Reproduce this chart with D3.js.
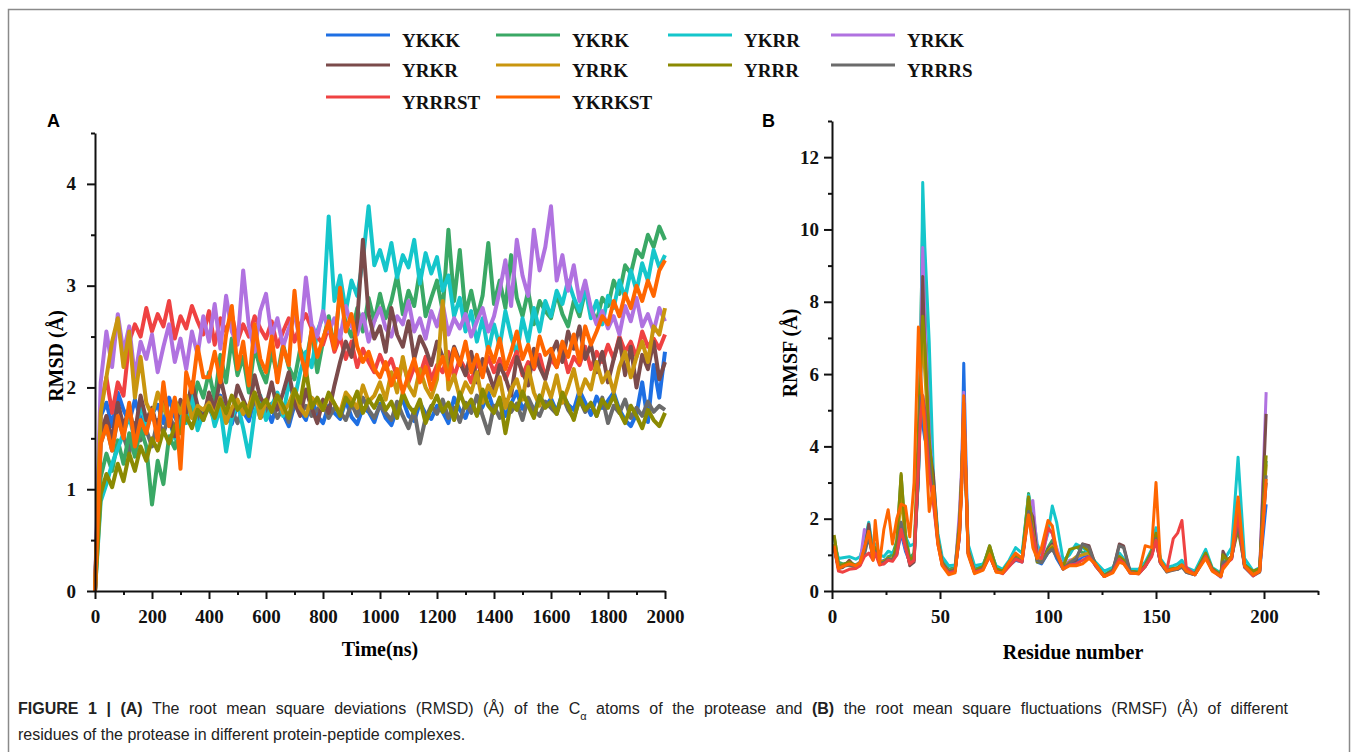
<!DOCTYPE html>
<html>
<head>
<meta charset="utf-8">
<script src="https://cdn.jsdelivr.net/npm/d3@7"></script>
<style>
  body { margin: 0; background: #fff; }
  .tick text { font-family: "Liberation Serif", "Times New Roman", serif; font-weight: bold; font-size: 19px; fill: #111; }
  .axis path, .axis line { stroke: #111; stroke-width: 2; }
</style>
</head>
<body>
<svg id="chart" width="1357" height="752"></svg>
<script>
// series names and colours (legend order)
const seriesNames = ["YKKK", "YKRK", "YKRR", "YRKK", "YRKR", "YRRK", "YRRR", "YRRRS", "YRRRST", "YKRKST"];
const seriesColors = ["#1e6fe3", "#3aa865", "#15c6cb", "#b072e0", "#7b4b4b", "#c9960e", "#8b8a02", "#6b6b6b", "#ef4242", "#ff6600"];
// order the lines are stacked in (last one on top)
const drawOrder = [0, 7, 1, 2, 8, 3, 4, 5, 6, 9];

// panel A: RMSD vs time, sampled every 20 ns
const rmsdTime = d3.range(0, 2001, 20);
const rmsdYKKK = [0, 1.72, 1.85, 1.62, 1.95, 1.78, 1.66, 1.88, 1.70, 1.59,
  1.74, 1.83, 1.65, 1.90, 1.71, 1.60, 1.79, 1.86, 1.68, 1.75,
  1.81, 1.69, 1.92, 1.72, 1.64, 1.84, 1.76, 1.67, 1.89, 1.73,
  1.80, 1.66, 1.85, 1.74, 1.62, 1.83, 1.77, 1.68, 1.90, 1.72,
  1.65, 1.82, 1.75, 1.69, 1.87, 1.71, 1.64, 1.80, 1.76, 1.66,
  1.84, 1.70, 1.63, 1.79, 1.88, 1.72, 1.67, 1.85, 1.74, 1.69,
  1.82, 1.76, 1.65, 1.90, 1.78, 1.70, 1.86, 1.73, 1.81, 1.95,
  1.77, 1.88, 1.72, 1.84, 1.96, 1.79, 1.86, 1.74, 1.92, 1.81,
  1.89, 1.76, 1.94, 1.83, 1.78, 1.97, 1.85, 1.73, 1.91, 1.80,
  1.87, 1.95, 1.78, 1.68, 1.62, 1.74, 2.05, 1.66, 2.22, 1.90, 2.35];
const rmsdYKRK = [0, 1.12, 1.35, 1.18, 1.48, 1.25, 1.55, 1.32, 1.60, 1.42,
  0.85, 1.28, 1.05, 1.52, 1.40, 1.68, 1.85, 1.72, 2.05, 1.90,
  2.15, 1.88, 2.32, 2.05, 2.48, 2.12, 2.30, 1.95, 2.40, 2.18,
  2.05, 2.35, 2.12, 2.42, 2.20, 2.08, 2.38, 2.25, 2.55, 2.15,
  2.45, 2.70, 2.38, 2.95, 2.62, 2.50, 2.78, 2.55, 2.88, 2.65,
  2.92, 2.68, 2.85, 3.10, 2.72, 2.95, 2.80, 3.15, 2.70, 2.88,
  3.05, 2.75, 3.55, 2.85, 3.35, 2.72, 2.95, 2.68, 2.90, 3.42,
  2.82, 3.05, 2.78, 3.30, 2.88, 2.70, 2.95, 2.62, 2.85, 2.75,
  2.68, 2.92, 2.72, 2.60, 2.85, 2.70, 2.95, 2.78, 2.65, 2.88,
  2.80, 3.05, 2.92, 3.20, 3.12, 3.35, 3.28, 3.50, 3.38, 3.58, 3.45];
const rmsdYKRR = [0, 0.88, 1.05, 1.25, 1.40, 1.55, 1.72, 1.48, 1.85, 1.62,
  1.78, 1.55, 1.92, 1.68, 1.50, 1.82, 1.65, 1.95, 1.58, 1.75,
  1.88, 1.62, 1.80, 1.37, 1.70, 1.85, 1.60, 1.32, 1.75, 1.92,
  1.68, 1.82, 1.95, 1.72, 2.05, 1.88, 2.15, 2.35, 2.20, 2.55,
  2.70, 3.68, 2.85, 3.10, 2.75, 3.05, 2.90, 3.25, 3.78, 3.20,
  3.35, 3.15, 3.42, 3.08, 3.30, 3.18, 3.45, 3.02, 3.32, 3.12,
  3.28, 2.95, 3.10, 2.70, 2.88, 2.55, 2.75, 2.45, 2.68, 2.35,
  2.62, 2.40, 2.75, 2.50, 2.32, 2.68, 2.45, 2.78, 2.55, 2.85,
  2.70, 2.95, 2.82, 3.05, 2.88, 2.75, 2.98, 2.68, 2.85, 2.62,
  2.90, 2.78, 3.05, 2.88, 3.15, 2.95, 3.22, 3.05, 3.35, 3.18, 3.30];
const rmsdYRKK = [0, 2.05, 2.55, 2.20, 2.72, 2.35, 2.60, 2.10, 2.45, 2.28,
  2.52, 2.15, 2.40, 2.62, 2.25, 2.48, 2.18, 2.55, 2.32, 2.70,
  2.45, 2.82, 2.38, 2.90, 2.55, 2.42, 3.15, 2.60, 2.35, 2.75,
  2.92, 2.50, 2.68, 2.40, 2.58, 2.72, 2.45, 3.08, 2.62, 2.50,
  2.75, 2.55, 2.68, 2.48, 2.80, 2.60, 2.52, 2.72, 2.45, 2.65,
  2.78, 2.58, 2.50, 2.70, 2.62, 2.85, 2.55, 2.68, 2.48, 2.75,
  2.60, 2.82, 2.52, 2.68, 2.58, 2.72, 2.50, 2.65, 2.78, 2.55,
  2.70, 2.95, 3.25, 2.80, 3.45, 3.10, 2.90, 3.55, 3.15, 3.38,
  3.78, 3.05, 3.30, 2.95, 3.20, 2.85, 3.05, 2.78, 2.62, 2.75,
  2.58, 2.70, 2.52, 2.80, 2.65, 2.88, 2.60, 2.72, 2.55, 2.78, 2.65];
const rmsdYRKR = [0, 1.55, 1.72, 1.48, 1.85, 1.62, 1.78, 1.55, 1.92, 1.68,
  1.80, 1.58, 1.95, 1.70, 1.52, 1.88, 1.75, 2.05, 1.82, 1.68,
  1.95, 1.78, 2.10, 1.85, 1.72, 2.02, 1.88, 1.75, 2.12, 1.90,
  1.82, 2.05, 1.78, 1.95, 2.15, 1.85, 1.72, 1.98, 1.80, 1.65,
  1.88, 1.75, 2.02, 2.25, 2.45, 2.30, 2.65, 3.45, 2.72, 2.48,
  2.60, 2.35, 2.78, 2.52, 2.40, 2.65, 2.28, 2.50, 2.38, 2.22,
  2.45, 2.30, 2.18, 2.40, 2.25, 2.12, 2.35, 2.05, 2.28, 2.15,
  1.98, 2.22, 2.10, 1.92, 2.30, 2.15, 2.02, 2.38, 2.20, 2.08,
  2.32, 2.45, 2.25, 2.55, 2.38, 2.60, 2.28, 2.42, 2.15, 2.35,
  2.05, 2.28, 2.48, 2.12, 2.40, 2.00, 2.32, 2.18, 2.45, 2.08, 2.25];
const rmsdYRRK = [0, 1.75, 2.10, 2.45, 2.68, 2.20, 2.55, 1.90, 2.30, 1.85,
  1.72, 1.95, 1.80, 1.68, 1.88, 1.75, 1.92, 1.70, 1.82, 1.78,
  1.85, 1.72, 1.90, 1.65, 1.80, 1.88, 1.74, 1.82, 1.95, 1.70,
  1.86, 1.78, 1.92, 1.75, 1.84, 1.98, 1.80, 1.72, 1.90, 1.85,
  1.78, 1.92, 1.84, 1.75, 1.95, 1.88, 1.80, 2.02, 1.86, 1.92,
  2.05, 1.88, 2.15, 1.95, 2.30, 2.02, 1.92, 2.18, 2.00, 1.90,
  2.08, 2.85, 1.98, 2.12, 1.90, 2.05, 1.95, 2.15, 1.85, 2.02,
  1.92, 2.10, 1.80, 1.98, 2.08, 1.88, 2.20, 1.95, 1.82, 2.05,
  1.90, 2.12, 1.85, 2.00, 2.18, 1.92, 2.08, 1.98, 2.25, 2.05,
  2.15, 1.95, 2.20, 2.35, 2.10, 2.30, 2.45, 2.25, 2.60, 2.52, 2.78];
const rmsdYRRR = [0, 0.95, 1.15, 1.02, 1.25, 1.08, 1.35, 1.18, 1.42, 1.28,
  1.50, 1.38, 1.58, 1.45, 1.62, 1.55, 1.72, 1.60, 1.78, 1.68,
  1.82, 1.70, 1.88, 1.75, 1.92, 1.78, 1.85, 1.72, 1.95, 1.80,
  1.88, 1.76, 1.92, 1.82, 1.70, 1.98, 1.85, 2.18, 1.80, 1.90,
  1.78, 1.95, 1.84, 1.72, 1.90, 1.82, 1.96, 1.75, 1.88, 1.80,
  1.92, 1.78, 1.86, 1.70, 1.95, 1.82, 1.75, 1.88, 1.65, 1.80,
  1.92, 1.76, 1.85, 1.68, 1.95, 1.80, 1.88, 1.72, 1.98, 1.82,
  1.75, 1.90, 1.55, 1.85, 1.78, 1.96, 1.82, 1.70, 1.92, 1.80,
  1.86, 1.74, 1.95, 1.82, 1.68, 1.90, 1.78, 1.85, 1.72, 1.88,
  1.80, 1.92, 1.76, 1.65, 1.82, 1.72, 1.60, 1.78, 1.68, 1.62, 1.75];
const rmsdYRRRS = [0, 1.45, 1.62, 1.38, 1.70, 1.52, 1.35, 1.65, 1.48, 1.58,
  1.42, 1.68, 1.55, 1.72, 1.60, 1.78, 1.66, 1.82, 1.70, 1.75,
  1.80, 1.68, 1.85, 1.72, 1.78, 1.65, 1.82, 1.74, 1.88, 1.70,
  1.76, 1.84, 1.70, 1.80, 1.66, 1.86, 1.74, 1.82, 1.72, 1.78,
  1.85, 1.70, 1.80, 1.76, 1.68, 1.84, 1.72, 1.90, 1.78, 1.70,
  1.82, 1.75, 1.68, 1.86, 1.72, 1.60, 1.78, 1.45, 1.70, 1.82,
  1.74, 1.88, 1.70, 1.80, 1.66, 1.85, 1.75, 1.92, 1.72, 1.55,
  1.82, 1.70, 1.88, 1.76, 1.84, 1.68, 1.90, 1.78, 1.72, 1.86,
  1.80, 1.74, 1.92, 1.78, 1.70, 1.88, 1.76, 1.84, 1.72, 1.90,
  1.65, 1.82, 1.75, 1.88, 1.70, 1.80, 1.72, 1.86, 1.76, 1.82, 1.78];
const rmsdYRRRST = [0, 1.80, 2.10, 1.75, 2.05, 1.92, 2.45, 2.62, 2.50, 2.78,
  2.55, 2.72, 2.60, 2.85, 2.48, 2.70, 2.58, 2.80, 2.65, 2.52,
  2.75, 2.42, 2.68, 2.55, 2.72, 2.45, 2.62, 2.50, 2.70, 2.58,
  2.48, 2.65, 2.40, 2.55, 2.68, 2.45, 2.62, 2.72, 2.58, 2.50,
  2.42, 2.60, 2.35, 2.50, 2.28, 2.45, 2.20, 2.38, 2.25, 2.15,
  2.32, 2.18, 2.28, 2.10, 2.25, 2.05, 2.20, 2.12, 2.30, 2.08,
  2.22, 2.15, 2.35, 2.10, 2.28, 2.18, 2.05, 2.25, 2.12, 2.30,
  2.15, 2.28, 2.08, 2.22, 2.35, 2.12, 2.25, 2.18, 2.32, 2.10,
  2.28, 2.20, 2.38, 2.15, 2.30, 2.22, 2.40, 2.18, 2.35, 2.25,
  2.42, 2.28, 2.50, 2.35, 2.45, 2.30, 2.55, 2.40, 2.48, 2.38, 2.52];
const rmsdYKRKST = [0, 1.45, 1.62, 1.38, 1.72, 1.50, 1.85, 1.42, 1.68, 1.55,
  1.78, 1.48, 2.05, 1.62, 1.90, 1.20, 2.15, 1.95, 2.40, 2.10,
  2.10, 2.35, 2.05, 2.52, 2.80, 2.18, 2.45, 2.02, 2.62, 2.28,
  2.15, 2.50, 2.05, 2.40, 2.22, 2.95, 2.35, 2.12, 2.58, 2.30,
  2.48, 2.65, 2.38, 2.98, 2.55, 2.72, 2.40, 2.25, 2.35, 2.18,
  2.10, 2.25, 2.02, 2.18, 1.95, 2.12, 2.28, 2.05, 2.20, 1.98,
  2.15, 2.30, 2.08, 2.38, 2.22, 2.45, 2.15, 2.32, 2.10, 2.40,
  2.25, 2.48, 2.18, 2.35, 2.55, 2.28, 2.42, 2.20, 2.50, 2.32,
  2.38, 2.20, 2.45, 2.30, 2.52, 2.25, 2.60, 2.42, 2.55, 2.70,
  2.62, 2.85, 2.70, 2.92, 2.78, 3.00, 2.85, 3.05, 2.90, 3.15, 3.25];

// panel B: RMSF per residue
const rmsfResidue = [1, 3, 5, 8, 11, 13, 15, 17, 19, 20, 22, 24, 26, 28, 30, 32, 34, 36, 38, 40,
  41, 42, 43, 45, 47, 49, 51, 54, 57, 59, 60, 61, 63, 66, 70, 73, 76, 79, 82, 85,
  88, 91, 93, 95, 97, 100, 102, 104, 107, 110, 113, 116, 119, 122, 126, 130, 133, 135, 138, 142,
  145, 148, 150, 152, 155, 158, 160, 162, 164, 168, 173, 176, 180, 181, 183, 185, 188, 191, 195, 198, 201];
const rmsfYKKK = [1.20, 0.65, 0.70, 0.72, 0.68, 0.75, 1.10, 1.55, 0.95, 1.20,
  0.80, 0.85, 0.90, 0.88, 1.00, 1.60, 1.10, 0.80, 0.95, 3.20,
  5.20, 4.60, 4.20, 3.80, 2.60, 1.40, 0.80, 0.55, 0.60, 1.50,
  3.00, 6.30, 1.10, 0.55, 0.65, 1.00, 0.55, 0.50, 0.70, 0.85,
  0.80, 2.40, 1.50, 0.80, 0.75, 1.05, 1.20, 0.90, 0.60, 0.75,
  0.80, 0.95, 1.00, 0.70, 0.42, 0.55, 0.90, 0.80, 0.50, 0.50,
  0.70, 1.00, 1.45, 0.80, 0.55, 0.60, 0.62, 0.70, 0.55, 0.48,
  0.95, 0.60, 0.42, 0.70, 0.80, 0.90, 2.00, 0.70, 0.45, 0.55, 2.40];
const rmsfYKRK = [1.50, 0.80, 0.75, 0.78, 0.72, 0.80, 1.20, 1.70, 1.00, 1.25,
  0.85, 0.80, 0.95, 1.00, 1.40, 3.20, 1.60, 0.90, 1.05, 3.50,
  7.00, 10.30, 8.00, 4.80, 2.90, 1.50, 0.85, 0.60, 0.65, 1.90,
  3.20, 5.00, 1.20, 0.60, 0.70, 1.25, 0.65, 0.55, 0.75, 1.00,
  0.90, 2.70, 1.80, 0.90, 0.85, 1.20, 1.40, 1.10, 0.70, 1.10,
  1.25, 1.05, 1.10, 0.75, 0.45, 0.60, 1.00, 0.85, 0.55, 0.55,
  0.75, 1.10, 1.70, 0.85, 0.60, 0.62, 0.65, 0.75, 0.58, 0.50,
  1.05, 0.62, 0.45, 0.80, 0.85, 0.95, 2.20, 0.75, 0.50, 0.60, 3.60];
const rmsfYKRR = [1.30, 0.90, 0.92, 0.95, 0.88, 0.95, 1.35, 1.90, 1.15, 1.30,
  1.00, 0.95, 1.10, 1.05, 1.20, 1.90, 1.50, 1.25, 1.30, 3.00,
  6.00, 11.30, 9.50, 6.90, 3.10, 1.60, 0.95, 0.70, 0.72, 1.70,
  3.00, 5.10, 1.30, 0.70, 0.75, 1.15, 0.70, 0.60, 0.85, 1.20,
  1.05, 2.65, 2.20, 1.30, 1.00, 1.60, 2.35, 1.90, 0.85, 1.00,
  1.30, 1.20, 1.05, 0.80, 0.55, 0.65, 1.05, 0.90, 0.60, 0.60,
  0.80, 1.15, 1.75, 0.90, 0.65, 0.70, 0.75, 0.85, 0.65, 0.55,
  1.15, 0.65, 0.50, 0.85, 1.00, 1.20, 3.70, 0.90, 0.55, 0.65, 3.00];
const rmsfYRKK = [1.25, 0.70, 0.68, 0.75, 0.70, 0.80, 1.70, 1.50, 0.95, 1.15,
  0.80, 0.78, 0.90, 0.85, 1.05, 1.75, 1.20, 0.75, 0.85, 3.50,
  6.50, 9.50, 7.50, 4.50, 2.80, 1.45, 0.80, 0.55, 0.60, 2.20,
  3.40, 5.50, 1.15, 0.55, 0.65, 1.05, 0.58, 0.52, 0.72, 0.90,
  0.85, 2.30, 2.50, 1.10, 0.80, 1.70, 1.60, 1.20, 0.65, 0.85,
  0.90, 1.00, 1.05, 0.72, 0.40, 0.55, 0.95, 0.82, 0.50, 0.50,
  0.70, 1.05, 1.50, 0.80, 0.55, 0.60, 0.62, 0.72, 0.55, 0.45,
  0.95, 0.58, 0.38, 0.65, 0.80, 0.90, 2.10, 0.68, 0.42, 0.55, 5.50];
const rmsfYRKR = [1.20, 0.62, 0.65, 0.85, 0.65, 0.72, 1.05, 1.85, 0.90, 1.10,
  0.78, 0.75, 0.88, 0.85, 1.10, 1.85, 1.30, 0.70, 0.80, 3.20,
  5.40, 8.70, 6.50, 4.00, 3.20, 1.40, 0.75, 0.50, 0.55, 1.60,
  3.00, 5.20, 1.05, 0.50, 0.62, 1.00, 0.55, 0.50, 0.70, 0.95,
  0.85, 2.30, 2.05, 1.00, 0.80, 1.15, 1.30, 1.00, 0.62, 0.80,
  0.85, 1.30, 1.25, 0.72, 0.42, 0.55, 1.30, 1.25, 0.55, 0.50,
  0.68, 1.00, 1.40, 0.78, 0.55, 0.58, 0.60, 0.68, 0.52, 0.45,
  1.00, 0.60, 0.42, 1.10, 0.85, 0.95, 2.10, 0.70, 0.45, 0.55, 4.90];
const rmsfYRRK = [1.30, 0.68, 0.72, 0.70, 0.68, 0.75, 1.10, 1.60, 0.95, 1.15,
  0.80, 0.82, 0.90, 0.88, 1.15, 2.60, 1.40, 0.80, 0.90, 3.80,
  6.00, 7.00, 6.00, 4.00, 2.70, 1.40, 0.78, 0.52, 0.58, 1.60,
  3.00, 5.00, 1.10, 0.55, 0.65, 1.10, 0.58, 0.52, 0.72, 0.95,
  0.85, 2.60, 1.70, 0.90, 0.80, 1.10, 1.25, 1.00, 0.65, 0.80,
  0.95, 1.00, 1.05, 0.72, 0.42, 0.55, 0.95, 0.85, 0.52, 0.50,
  0.70, 1.05, 1.55, 0.80, 0.55, 0.60, 0.62, 0.70, 0.55, 0.46,
  1.00, 0.60, 0.42, 0.75, 0.82, 0.92, 2.00, 0.70, 0.45, 0.58, 3.50];
const rmsfYRRR = [1.55, 0.70, 0.72, 0.80, 0.70, 0.78, 1.15, 1.65, 0.95, 1.20,
  0.80, 0.80, 0.90, 0.85, 1.30, 3.25, 1.50, 0.85, 0.95, 4.50,
  6.20, 7.60, 6.80, 4.20, 2.80, 1.45, 0.80, 0.55, 0.60, 1.90,
  3.20, 4.90, 1.15, 0.55, 0.68, 1.25, 0.62, 0.55, 0.80, 1.00,
  0.90, 2.60, 1.60, 0.80, 0.80, 1.10, 1.20, 1.00, 0.68, 1.15,
  1.20, 1.25, 1.10, 0.75, 0.42, 0.58, 0.95, 0.85, 0.55, 0.52,
  0.72, 1.10, 1.60, 0.85, 0.58, 0.62, 0.64, 0.72, 0.56, 0.48,
  1.05, 0.62, 0.45, 1.00, 0.85, 0.95, 1.70, 0.72, 0.55, 0.62, 3.75];
const rmsfYRRRS = [1.20, 0.65, 0.68, 0.72, 0.66, 0.75, 1.00, 1.50, 0.90, 1.10,
  0.78, 0.78, 0.88, 0.85, 1.05, 1.90, 1.25, 0.75, 0.85, 3.20,
  5.40, 5.40, 5.00, 3.60, 2.50, 1.35, 0.75, 0.52, 0.58, 1.50,
  2.90, 4.80, 1.05, 0.52, 0.62, 0.98, 0.55, 0.50, 0.70, 0.90,
  0.82, 2.20, 1.60, 0.85, 0.78, 1.05, 1.15, 0.95, 0.62, 0.78,
  0.90, 1.30, 1.20, 0.70, 0.40, 0.55, 1.25, 1.20, 0.52, 0.48,
  0.68, 1.00, 1.45, 0.78, 0.52, 0.58, 0.60, 0.66, 0.52, 0.45,
  0.95, 0.58, 0.40, 0.80, 0.80, 0.90, 1.90, 0.65, 0.42, 0.52, 3.20];
const rmsfYRRRST = [1.20, 0.55, 0.52, 0.60, 0.62, 0.70, 0.95, 1.05, 0.85, 1.05,
  0.72, 0.75, 0.85, 0.82, 1.00, 1.70, 1.20, 0.75, 0.85, 3.50,
  4.80, 5.40, 4.80, 3.20, 2.40, 1.30, 0.72, 0.50, 0.55, 1.50,
  2.80, 5.20, 1.05, 0.52, 0.60, 0.95, 0.55, 0.48, 0.68, 0.88,
  0.80, 2.10, 1.55, 0.95, 0.90, 1.75, 1.60, 1.05, 0.62, 0.72,
  0.75, 0.85, 0.95, 0.70, 0.40, 0.52, 0.88, 0.78, 0.50, 0.48,
  0.68, 0.95, 1.40, 0.78, 0.58, 1.45, 1.60, 1.95, 0.65, 0.45,
  0.95, 0.58, 0.40, 0.68, 0.78, 0.88, 2.10, 0.68, 0.42, 0.55, 3.00];
const rmsfYKRKST = [1.25, 0.62, 0.68, 0.75, 0.70, 0.78, 1.20, 1.65, 0.85, 1.95,
  0.75, 1.70, 2.25, 1.30, 2.00, 2.40, 2.35, 1.50, 3.00, 7.30,
  6.00, 5.20, 4.40, 2.20, 2.90, 1.30, 0.70, 0.45, 0.50, 1.60,
  2.80, 5.40, 1.00, 0.48, 0.58, 1.00, 0.52, 0.50, 0.80, 1.05,
  0.90, 2.10, 1.20, 0.90, 1.20, 1.95, 1.80, 1.10, 0.60, 0.70,
  0.70, 0.75, 0.90, 0.75, 0.40, 0.50, 0.80, 0.75, 0.50, 0.48,
  1.25, 1.20, 3.00, 0.85, 0.55, 0.60, 0.62, 0.72, 0.55, 0.45,
  0.90, 0.55, 0.40, 0.60, 0.75, 0.95, 2.60, 0.70, 0.45, 0.55, 3.10];

const rmsdSeries = [rmsdYKKK, rmsdYKRK, rmsdYKRR, rmsdYRKK, rmsdYRKR, rmsdYRRK, rmsdYRRR, rmsdYRRRS, rmsdYRRRST, rmsdYKRKST];
const rmsfSeries = [rmsfYKKK, rmsfYKRK, rmsfYKRR, rmsfYRKK, rmsfYRKR, rmsfYRRK, rmsfYRRR, rmsfYRRRS, rmsfYRRRST, rmsfYKRKST];

const svg = d3.select("#chart");
const serif = '"Liberation Serif", "Times New Roman", serif';
const sans = '"Liberation Sans", Arial, sans-serif';

// outer frame
svg.append("rect")
  .attr("x", 8.5).attr("y", 9.5)
  .attr("width", 1341).attr("height", 800)
  .attr("fill", "none").attr("stroke", "#8a8a8a").attr("stroke-width", 1.5);

// legend
const legCols = [326, 496, 668, 831];
const legRows = [35, 65, 97];
seriesNames.forEach((name, i) => {
  const lx = legCols[i % 4], ly = legRows[Math.floor(i / 4)];
  svg.append("line")
    .attr("x1", lx).attr("x2", lx + 64)
    .attr("y1", ly).attr("y2", ly)
    .attr("stroke", seriesColors[i]).attr("stroke-width", 3);
  svg.append("text")
    .attr("x", lx + 76).attr("y", ly + 12)
    .style("font-family", serif).style("font-weight", "bold").style("font-size", "19px")
    .attr("fill", "#111")
    .text(name);
});

function drawAxes(g, x, y, xMajor, xMinor, yMajor, yMinor, yPad) {
  g.append("g").attr("class", "axis")
    .attr("transform", `translate(0,${y.range()[0]})`)
    .call(d3.axisBottom(x).tickValues(xMinor).tickSize(4).tickFormat("").tickSizeOuter(0))
    .call(a => a.select(".domain").remove());
  g.append("g").attr("class", "axis")
    .attr("transform", `translate(0,${y.range()[0]})`)
    .call(d3.axisBottom(x).tickValues(xMajor).tickSize(8).tickPadding(11).tickSizeOuter(0).tickFormat(d => d));
  g.append("g").attr("class", "axis")
    .attr("transform", `translate(${x.range()[0]},0)`)
    .call(d3.axisLeft(y).tickValues(yMinor).tickSize(4).tickFormat("").tickSizeOuter(0))
    .call(a => a.select(".domain").remove());
  g.append("g").attr("class", "axis")
    .attr("transform", `translate(${x.range()[0]},0)`)
    .call(d3.axisLeft(y).tickValues(yMajor).tickSize(8).tickPadding(yPad).tickSizeOuter(0).tickFormat(d => d));
}

// ---------- panel A ----------
const xA = d3.scaleLinear().domain([0, 2000]).range([95, 665]);
const yA = d3.scaleLinear().domain([0, 4.5]).range([591, 133]);
const gA = svg.append("g");

const lineA = d3.line().x((d, i) => xA(rmsdTime[i])).y(d => yA(d));
drawOrder.forEach(i => {
  gA.append("path").datum(rmsdSeries[i])
    .attr("d", lineA)
    .attr("fill", "none")
    .attr("stroke", seriesColors[i])
    .attr("stroke-width", 4)
    .attr("stroke-linejoin", "round");
});

drawAxes(gA, xA, yA,
  d3.range(0, 2001, 200), d3.range(100, 2001, 200),
  [0, 1, 2, 3, 4], [0.5, 1.5, 2.5, 3.5, 4.5], 11);

gA.append("text")
  .attr("x", 380).attr("y", 656)
  .attr("text-anchor", "middle")
  .style("font-family", serif).style("font-weight", "bold").style("font-size", "20px")
  .text("Time(ns)");
gA.append("text")
  .attr("transform", "translate(63,356) rotate(-90)")
  .attr("text-anchor", "middle")
  .style("font-family", serif).style("font-weight", "bold").style("font-size", "20px")
  .text("RMSD (Å)");
gA.append("text")
  .attr("x", 47).attr("y", 127)
  .style("font-family", sans).style("font-weight", "bold").style("font-size", "18px")
  .text("A");

// ---------- panel B ----------
const xB = d3.scaleLinear().domain([0, 225]).range([832, 1318]);
const yB = d3.scaleLinear().domain([0, 13]).range([591, 121]);
const gB = svg.append("g");

const lineB = d3.line().x((d, i) => xB(rmsfResidue[i])).y(d => yB(d));
rmsfSeries.forEach((s, i) => {
  gB.append("path").datum(s)
    .attr("d", lineB)
    .attr("fill", "none")
    .attr("stroke", seriesColors[i])
    .attr("stroke-width", 3)
    .attr("stroke-linejoin", "round");
});

drawAxes(gB, xB, yB,
  [0, 50, 100, 150, 200], [25, 75, 125, 175, 225],
  [0, 2, 4, 6, 8, 10, 12], [1, 3, 5, 7, 9, 11, 13], 5);

gB.append("text")
  .attr("x", 1073).attr("y", 659)
  .attr("text-anchor", "middle")
  .style("font-family", serif).style("font-weight", "bold").style("font-size", "20px")
  .text("Residue number");
gB.append("text")
  .attr("transform", "translate(797,353) rotate(-90)")
  .attr("text-anchor", "middle")
  .style("font-family", serif).style("font-weight", "bold").style("font-size", "20px")
  .text("RMSF (Å)");
gB.append("text")
  .attr("x", 762).attr("y", 127)
  .style("font-family", sans).style("font-weight", "bold").style("font-size", "18px")
  .text("B");

// ---------- caption (first line justified) ----------
const cap1 = svg.append("text")
  .attr("x", 18).attr("y", 714)
  .style("font-family", sans).style("font-size", "16px").attr("fill", "#222");
cap1.append("tspan").style("font-weight", "bold").text("FIGURE 1 | (A)");
cap1.append("tspan").text(" The root mean square deviations (RMSD) (Å) of the C");
cap1.append("tspan").attr("baseline-shift", "sub").style("font-size", "11px").text("α");
cap1.append("tspan").text(" atoms of the protease and ");
cap1.append("tspan").style("font-weight", "bold").text("(B)");
cap1.append("tspan").text(" the root mean square fluctuations (RMSF) (Å) of different");

const capWidth = cap1.node().getComputedTextLength();
cap1.style("word-spacing", ((1288 - 18 - capWidth) / 28) + "px");

svg.append("text")
  .attr("x", 18).attr("y", 740)
  .style("font-family", sans).style("font-size", "16px").attr("fill", "#222")
  .text("residues of the protease in different protein-peptide complexes.");
</script>
</body>
</html>
